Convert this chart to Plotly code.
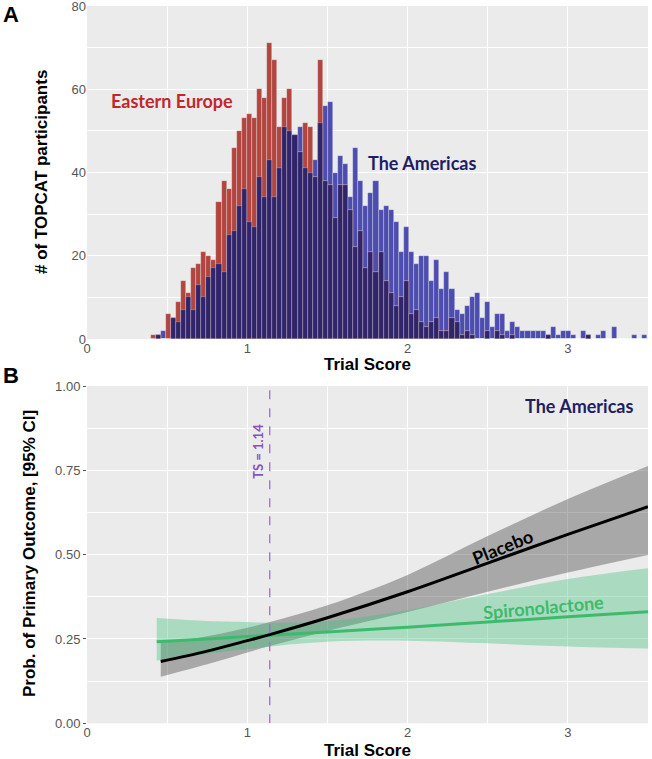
import plotly.graph_objects as go

# Histogram (panel A): counts per Trial Score bin
bin_start = 0.397
bin_width = 0.0316
europe_counts = [1, 1, 0, 6, 5, 9, 14, 11, 17, 18, 21, 20, 19, 33, 38, 36, 46, 50, 53, 54,
                 53, 60, 58, 71, 67, 51, 58, 60, 49, 45, 52, 51, 39, 67, 38, 37, 29, 37, 37, 31,
                 22, 26, 17, 21, 16, 21, 14, 11, 8, 10, 14, 6, 7, 4, 3, 4, 5, 2, 2, 5,
                 4, 1, 2, 1, 0, 0, 2, 0, 2, 1, 0, 1, 0, 0, 0, 0, 0, 0, 1, 0,
                 0, 0, 0, 0, 0, 0, 1, 0, 0, 0, 0, 0, 0, 0, 0, 0, 0, 0]
americas_counts = [0, 1, 2, 0, 5, 4, 7, 10, 7, 13, 10, 15, 17, 18, 16, 25, 26, 32, 36, 28,
                   27, 39, 34, 43, 34, 41, 51, 50, 49, 51, 41, 40, 43, 52, 56, 57, 40, 44, 42, 34,
                   46, 38, 32, 35, 38, 31, 32, 31, 28, 21, 27, 21, 18, 20, 20, 14, 19, 12, 16, 12,
                   7, 6, 8, 10, 11, 5, 9, 3, 6, 6, 2, 4, 3, 2, 2, 2, 2, 2, 1, 3,
                   1, 2, 2, 1, 0, 2, 1, 0, 1, 2, 0, 3, 0, 0, 0, 1, 0, 1]

# Panel B: predicted probability of primary outcome with 95% CI
placebo_ts = [0.46, 0.75, 1.0, 1.14, 1.5, 2.0, 2.5, 3.0, 3.5]
placebo_fit = [0.183, 0.214, 0.245, 0.263, 0.313, 0.39, 0.475, 0.56, 0.642]
placebo_lo = [0.138, 0.175, 0.21, 0.229, 0.274, 0.33, 0.39, 0.447, 0.499]
placebo_hi = [0.238, 0.258, 0.283, 0.30, 0.35, 0.44, 0.555, 0.665, 0.763]

spiro_ts = [0.435, 0.75, 1.0, 1.14, 1.5, 2.0, 2.5, 3.0, 3.5]
spiro_fit = [0.242, 0.25, 0.257, 0.261, 0.271, 0.285, 0.30, 0.316, 0.331]
spiro_lo = [0.186, 0.206, 0.22, 0.228, 0.242, 0.245, 0.237, 0.228, 0.222]
spiro_hi = [0.312, 0.303, 0.30, 0.298, 0.303, 0.335, 0.383, 0.428, 0.46]

ts_cut = 1.14

centers = [bin_start + (i + 0.5) * bin_width for i in range(len(europe_counts))]
overlap = [min(a, b) for a, b in zip(europe_counts, americas_counts)]

RED = "#B1453F"
BLUE = "#4C4DAE"
NAVY = "#30246A"
edge = dict(color="rgba(255,255,255,0.45)", width=0.6)

fig = go.Figure()

# americas full, europe full, then overlap on top
fig.add_trace(go.Bar(x=centers, y=americas_counts, width=bin_width, marker=dict(color=BLUE, line=edge),
                     xaxis="x", yaxis="y", name="The Americas"))
fig.add_trace(go.Bar(x=centers, y=europe_counts, width=bin_width, marker=dict(color=RED, line=edge),
                     xaxis="x", yaxis="y", name="Eastern Europe"))
fig.add_trace(go.Bar(x=centers, y=overlap, width=bin_width, marker=dict(color=NAVY, line=edge),
                     xaxis="x", yaxis="y", name="overlap"))

# CI bands
fig.add_trace(go.Scatter(x=placebo_ts, y=placebo_lo, mode="lines", line=dict(width=0, shape="spline"),
                         xaxis="x2", yaxis="y2", hoverinfo="skip"))
fig.add_trace(go.Scatter(x=placebo_ts, y=placebo_hi, mode="lines", line=dict(width=0, shape="spline"),
                         fill="tonexty", fillcolor="rgba(60,60,60,0.38)", xaxis="x2", yaxis="y2"))
fig.add_trace(go.Scatter(x=spiro_ts, y=spiro_lo, mode="lines", line=dict(width=0, shape="spline"),
                         xaxis="x2", yaxis="y2", hoverinfo="skip"))
fig.add_trace(go.Scatter(x=spiro_ts, y=spiro_hi, mode="lines", line=dict(width=0, shape="spline"),
                         fill="tonexty", fillcolor="rgba(60,190,120,0.37)", xaxis="x2", yaxis="y2"))
fig.add_trace(go.Scatter(x=spiro_ts, y=spiro_fit, mode="lines", line=dict(color="#3DBB6C", width=3, shape="spline"),
                         xaxis="x2", yaxis="y2"))
fig.add_trace(go.Scatter(x=placebo_ts, y=placebo_fit, mode="lines", line=dict(color="black", width=3, shape="spline"),
                         xaxis="x2", yaxis="y2"))

fig.add_shape(type="line", x0=ts_cut, x1=ts_cut, y0=0, y1=1, xref="x2", yref="y2",
              line=dict(color="#A36AD6", width=1.3, dash="dash"))

W, H = 652, 759
xdom = [87 / W, 648 / W]
tick_font = dict(family="Liberation Sans, Arial", size=13, color="#555555")
grid = dict(showgrid=True, gridcolor="white", gridwidth=1.2, zeroline=False, showline=False,
            automargin=False, ticklabeloverflow="allow")
xminor = dict(tickvals=[0.5, 1.5, 2.5], showgrid=True, gridcolor="white", gridwidth=0.6)

fig.update_layout(
    width=W, height=H,
    margin=dict(l=0, r=0, t=0, b=0),
    paper_bgcolor="white",
    plot_bgcolor="#EBEBEB",
    barmode="overlay",
    bargap=0,
    showlegend=False,
    xaxis=dict(domain=xdom, anchor="y", range=[0, 3.5], tickvals=[0, 1, 2, 3], tickfont=tick_font,
               minor=xminor, ticks="", **grid),
    yaxis=dict(domain=[1 - 339 / H, 1 - 6 / H], anchor="x", range=[0, 80], tickvals=[0, 20, 40, 60, 80],
               tickfont=tick_font, minor=dict(tickvals=[10, 30, 50, 70], showgrid=True, gridcolor="white", gridwidth=0.6),
               ticks="", **grid),
    xaxis2=dict(domain=xdom, anchor="y2", range=[0, 3.5], tickvals=[0, 1, 2, 3], tickfont=tick_font,
                minor=xminor, ticks="", **grid),
    yaxis2=dict(domain=[1 - 723.3 / H, 1 - 386 / H], anchor="x2", range=[0, 1],
                tickvals=[0, 0.25, 0.5, 0.75, 1], ticktext=["0.00", "0.25", "0.50", "0.75", "1.00"],
                tickfont=tick_font, ticks="outside", ticklen=3, tickcolor="#555555",
                minor=dict(tickvals=[0.125, 0.375, 0.625, 0.875], showgrid=True, gridcolor="white", gridwidth=0.6),
                **grid),
)

title_font = dict(family="Liberation Sans, Arial", size=17, color="black")
label_font = dict(family="Lato, Open Sans", size=18)
annos = [
    # panel letters
    dict(text="<b>A</b>", x=10.5 / W, y=1 - 14.5 / H, xref="paper", yref="paper",
         font=dict(family="Liberation Sans, Arial", size=22, color="black")),
    dict(text="<b>B</b>", x=10.5 / W, y=1 - 375 / H, xref="paper", yref="paper",
         font=dict(family="Liberation Sans, Arial", size=22, color="black")),
    # axis titles
    dict(text="<b>Trial Score</b>", x=367.5 / W, y=1 - 364 / H, xref="paper", yref="paper", font=title_font),
    dict(text="<b>Trial Score</b>", x=367.5 / W, y=1 - 750 / H, xref="paper", yref="paper", font=title_font),
    dict(text="<b># of TOPCAT participants</b>", x=41 / W, y=1 - 172 / H, xref="paper", yref="paper",
         textangle=-90, font=title_font),
    dict(text="<b>Prob. of Primary Outcome, [95% CI]</b>", x=29 / W, y=1 - 554 / H, xref="paper", yref="paper",
         textangle=-90, font=title_font),
    # in-plot labels
    dict(text="<b>Eastern Europe</b>", x=0.53, y=57.2, xref="x", yref="y", font=dict(label_font, color="#C1272D")),
    dict(text="<b>The Americas</b>", x=2.09, y=42.3, xref="x", yref="y", font=dict(label_font, color="#1E1E64")),
    dict(text="<b>The Americas</b>", x=3.07, y=0.94, xref="x2", yref="y2", font=dict(label_font, color="#1E1E64")),
    dict(text="<b>Placebo</b>", x=2.59, y=0.522, xref="x2", yref="y2", textangle=-22,
         font=dict(label_font, color="black")),
    dict(text="<b>Spironolactone</b>", x=2.85, y=0.345, xref="x2", yref="y2", textangle=-5,
         font=dict(label_font, color="#3DBB6C")),
    dict(text="<b>TS = 1.14</b>", x=1.065, y=0.807, xref="x2", yref="y2", textangle=-90,
         font=dict(family="Lato, Open Sans", size=13, color="#8A4FC0")),
]
for a in annos:
    a.setdefault("showarrow", False)
    a.setdefault("xanchor", "center")
    a.setdefault("yanchor", "middle")
fig.update_layout(annotations=annos)

# drop the default page margin so the figure sits at the window's corner
fig.write_html("out.html", config={"displayModeBar": False},
               post_script="document.body.style.margin='0';")
